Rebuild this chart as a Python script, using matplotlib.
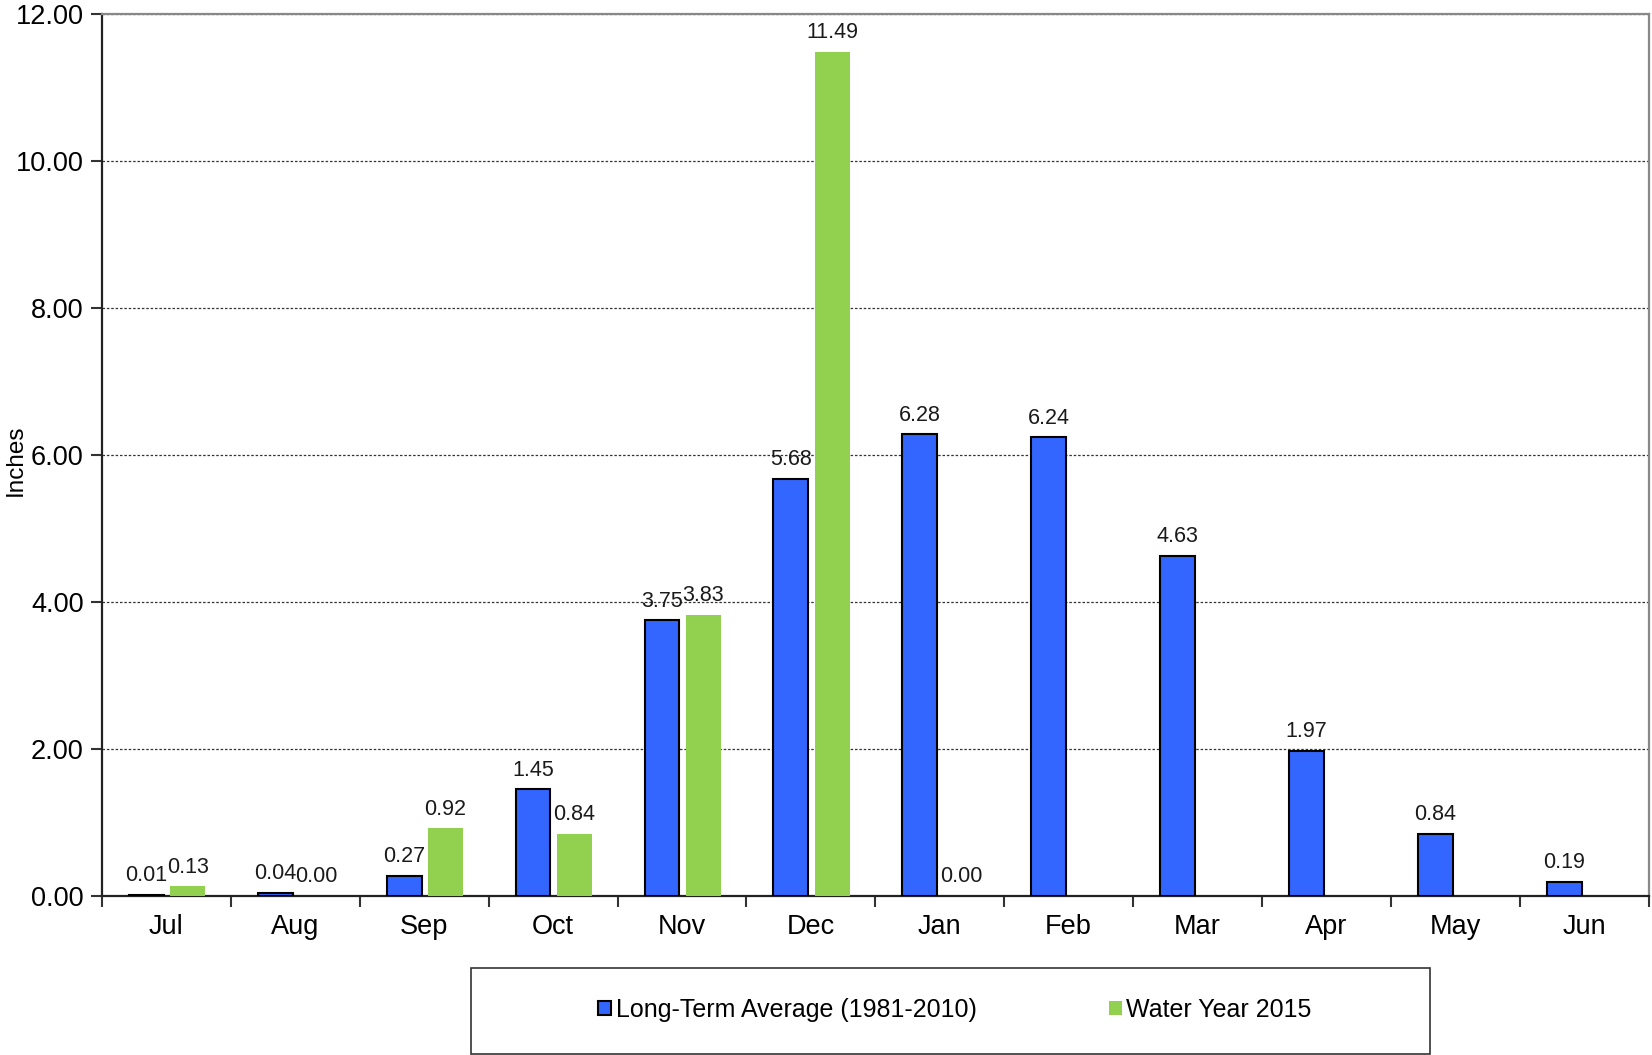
import matplotlib.pyplot as plt
import numpy as np
from matplotlib.patches import Rectangle
from matplotlib.ticker import FormatStrFormatter, FixedLocator

plt.rcParams['font.family'] = ['Liberation Sans', 'DejaVu Sans']

months = ['Jul', 'Aug', 'Sep', 'Oct', 'Nov', 'Dec', 'Jan', 'Feb', 'Mar', 'Apr', 'May', 'Jun']
long_term = [0.01, 0.04, 0.27, 1.45, 3.75, 5.68, 6.28, 6.24, 4.63, 1.97, 0.84, 0.19]
water_year = [0.13, 0.00, 0.92, 0.84, 3.83, 11.49, 0.00, None, None, None, None, None]

blue = '#3366FF'
green = '#92D050'

fig = plt.figure(figsize=(16.52, 10.55), dpi=100)
ax = fig.add_axes([0.0617, 0.1507, 0.9363, 0.836])

x = np.arange(len(months))
w = 0.27

lt_bars = ax.bar(x - 0.155, long_term, w, color=blue, edgecolor='black',
                 linewidth=1.5, label='Long-Term Average (1981-2010)', zorder=3)
wy_x = [xi + 0.165 for xi, v in zip(x, water_year) if v is not None]
wy_v = [v for v in water_year if v is not None]
wy_bars = ax.bar(wy_x, wy_v, w, color=green, linewidth=0,
                 label='Water Year 2015', zorder=3)

# value labels above each bar
for xi, v in zip(x - 0.155, long_term):
    ax.text(xi, v + 0.12, f'{v:.2f}', ha='center', va='bottom', fontsize=15.5, color='#1a1a1a')
for xi, v in zip(wy_x, wy_v):
    ax.text(xi, v + 0.12, f'{v:.2f}', ha='center', va='bottom', fontsize=15.5, color='#1a1a1a')

ax.set_xlim(-0.5, len(months) - 0.5)
ax.set_ylim(0, 12)
ax.set_yticks(np.arange(0, 12.1, 2))
ax.yaxis.set_major_formatter(FormatStrFormatter('%.2f'))
ax.grid(axis='y', linestyle=(0, (2, 1.5)), color='#333333', linewidth=0.9, zorder=0)

# month names centred, tick marks on the boundaries
ax.set_xticks(x)
ax.set_xticklabels(months)
ax.tick_params(axis='x', length=0, pad=13, labelsize=19.5)
ax.xaxis.set_minor_locator(FixedLocator(np.arange(-0.5, len(months), 1)))
ax.tick_params(axis='x', which='minor', length=8, width=1.5, color='#333333', direction='out')
ax.tick_params(axis='y', length=8, width=1.5, color='#333333', direction='out', labelsize=19.5, pad=5)

for side in ['left', 'bottom']:
    ax.spines[side].set_color('#222222')
    ax.spines[side].set_linewidth(1.6)
for side in ['top', 'right']:
    ax.spines[side].set_color('#888888')
    ax.spines[side].set_linewidth(1.6)

fig.text(16 / 1652, 0.564, 'Inches', rotation=90, ha='center', va='center', fontsize=17.5)

# legend box below the plot
fig.add_artist(Rectangle((471 / 1652, 1 / 1055), (1430 - 471) / 1652, 86 / 1055,
                         transform=fig.transFigure, facecolor='white',
                         edgecolor='#333333', linewidth=1.2))
fig.legend(handles=[lt_bars, wy_bars], loc='center',
           bbox_to_anchor=(955 / 1652, 45 / 1055), ncol=2, frameon=False,
           fontsize=18, handlelength=0.5, handleheight=0.5, handletextpad=0.2,
           columnspacing=5.3)

fig.savefig('out.png', dpi=100)
